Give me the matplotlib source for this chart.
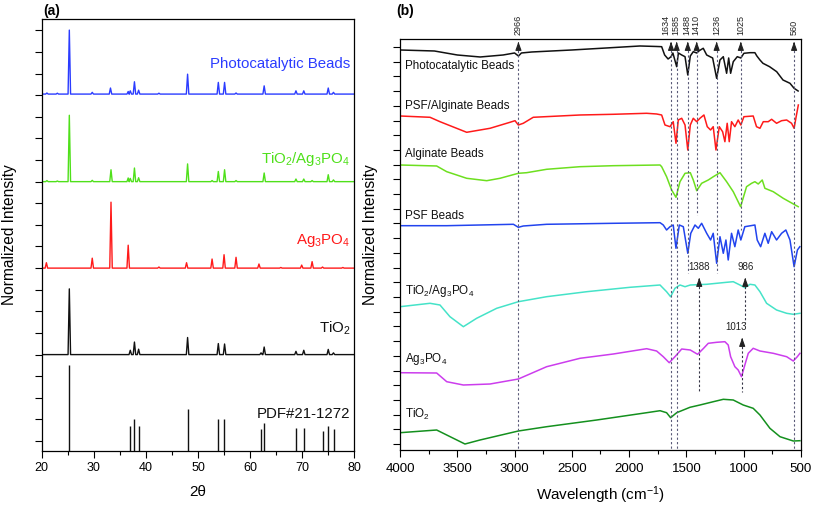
import matplotlib
matplotlib.use('Agg')
import matplotlib.pyplot as plt
from matplotlib.ticker import MultipleLocator, FixedLocator, NullFormatter

plt.rcParams['font.family'] = ['Liberation Sans', 'DejaVu Sans']
plt.rcParams['mathtext.fontset'] = 'custom'
plt.rcParams['mathtext.rm'] = 'Liberation Sans'
plt.rcParams['mathtext.it'] = 'Liberation Sans:italic'
plt.rcParams['mathtext.bf'] = 'Liberation Sans:bold'

# ---------------- XRD data (2theta peak positions / heights) ----------------
photo_pos = [21.0, 23.0, 25.3, 29.7, 33.2, 36.6, 37.0, 37.8, 38.6, 42.5, 48.0, 53.9, 55.1, 57.3, 62.7, 68.8, 70.3, 75.0, 76.0]
photo_h   = [0.05, 0.04, 2.96, 0.08, 0.28, 0.12, 0.15, 0.57, 0.18, 0.04, 0.92, 0.54, 0.54, 0.05, 0.38, 0.15, 0.15, 0.28, 0.08]

tiag_pos = [21.0, 23.0, 25.3, 29.7, 33.3, 36.6, 37.0, 37.8, 38.6, 48.0, 52.7, 53.9, 55.1, 57.3, 62.7, 68.8, 70.3, 71.9, 75.0, 76.0]
tiag_h   = [0.05, 0.03, 3.07, 0.06, 0.55, 0.17, 0.15, 0.63, 0.18, 0.82, 0.05, 0.47, 0.55, 0.05, 0.40, 0.12, 0.12, 0.05, 0.32, 0.08]

ag_pos = [20.9, 29.7, 33.3, 36.6, 42.5, 47.8, 52.7, 55.0, 57.3, 61.7, 65.9, 69.9, 71.9, 73.9, 77.8]
ag_h   = [0.25, 0.46, 3.05, 1.06, 0.05, 0.25, 0.42, 0.62, 0.50, 0.19, 0.03, 0.14, 0.30, 0.05, 0.03]

tio2_pos = [25.3, 37.0, 37.8, 38.6, 48.0, 53.9, 55.1, 62.1, 62.7, 68.8, 70.3, 75.0, 76.0]
tio2_h   = [3.04, 0.20, 0.58, 0.25, 0.79, 0.51, 0.49, 0.08, 0.35, 0.15, 0.20, 0.24, 0.08]

pdf_pos = [25.28, 36.95, 37.80, 38.58, 48.05, 53.89, 55.06, 62.12, 62.69, 68.76, 70.31, 74.03, 75.03, 76.02]
pdf_h   = [3.96, 1.16, 1.46, 1.16, 1.96, 1.46, 1.46, 1.01, 1.29, 1.06, 1.06, 0.92, 1.16, 1.01]

xrd_labels = ['Photocatalytic Beads', 'TiO$_2$/Ag$_3$PO$_4$', 'Ag$_3$PO$_4$', 'TiO$_2$', 'PDF#21-1272']
xrd_ticks = [20, 30, 40, 50, 60, 70, 80]

# ---------------- FTIR data (wavenumber / relative transmittance) ----------------
photo_w = [4000, 3700, 3500, 3300, 3100, 3000, 2966, 2940, 2850, 2500, 2200, 1905, 1760, 1716, 1690, 1660, 1634, 1618, 1585, 1570,
           1541, 1512, 1488, 1466, 1440, 1410, 1388, 1353, 1323, 1294, 1271, 1236, 1207, 1178, 1149, 1131, 1114, 1091, 1056, 1025,
           998, 945, 902, 885, 858, 832, 774, 712, 657, 596, 560, 525]
photo_t = [394, 393, 389, 387, 389, 391, 388, 391, 392, 394, 396, 398, 397.5, 397.3, 389, 385, 387.3, 391, 377.3, 391,
           389, 387.3, 369, 388, 392.3, 391, 393.3, 395.7, 389, 387.3, 386, 365.7, 384, 387.3, 370.7, 386, 370.7, 382.3, 387.3, 386,
           390.7, 391.3, 391.3, 388, 384, 380.7, 377.3, 372.3, 364, 360.7, 355.7, 353]

psfalg_w = [4000, 3738, 3651, 3418, 3214, 3040, 2996, 2967, 2924, 2837, 2429, 2138, 1847, 1760, 1716, 1687, 1643, 1615, 1591, 1571,
            1541, 1512, 1488, 1466, 1440, 1410, 1382, 1347, 1318, 1289, 1266, 1242, 1213, 1184, 1164, 1144, 1126, 1106, 1077, 1048,
            1025, 998, 917, 888, 858, 829, 786, 756, 713, 669, 625, 582, 560, 542, 523]
psfalg_t = [328, 326.7, 322.3, 311.7, 315.7, 321.7, 323.3, 319, 320.7, 326.7, 329, 329.7, 330.7, 330, 329, 319, 317.3, 322.3, 300.7, 324,
            325.7, 319, 294, 319, 325.7, 322.3, 325.7, 329, 317.3, 314, 317.3, 294, 317.3, 312.3, 302.3, 320.7, 302.3, 322.3, 317.3, 324,
            319, 327.3, 328, 317.3, 315.7, 322.3, 322.3, 324.7, 320.7, 323.3, 324, 320.7, 315.7, 327.3, 339]

alg_w = [4000, 3680, 3592, 3418, 3243, 3127, 2967, 2894, 2720, 2429, 2138, 1730, 1716, 1673, 1629, 1591, 1556, 1512, 1466, 1440,
         1410, 1367, 1309, 1265, 1207, 1149, 1091, 1027, 975, 931, 902, 873, 838, 815, 742, 655, 524]
alg_t = [279, 278, 272.3, 265.7, 263.3, 265.7, 270.7, 271.3, 274.7, 277.3, 278.3, 279, 277.3, 267.3, 254, 246.7, 262.3, 270.7, 271.3, 264,
         253.3, 260.7, 264, 267.3, 271.3, 262.3, 252.3, 237.3, 257.3, 260.7, 262.3, 260, 264, 255.7, 252.3, 245.7, 237.3]

psf_w = [4000, 3592, 3010, 2967, 2924, 2720, 2138, 1730, 1702, 1673, 1643, 1615, 1591, 1562, 1527, 1488, 1462, 1425, 1396, 1367,
         1323, 1289, 1266, 1236, 1207, 1178, 1155, 1135, 1106, 1077, 1048, 1025, 990, 902, 882, 852, 815, 786, 756, 713,
         669, 632, 596, 560, 531, 510]
psf_t = [218.3, 218.3, 219.7, 216.7, 218, 219.7, 220.7, 221.3, 219, 214, 217.3, 219, 195.7, 219, 217.3, 190.7, 210.7, 219, 215.7, 220.7,
         210.7, 204, 210.7, 180.7, 207.3, 190.7, 204, 184, 210.7, 197.3, 214, 204, 217.3, 219, 204, 197.3, 210.7, 200.7, 212.3, 204,
         210.7, 214, 204, 177.3, 194, 197.3]

tiag_w = [4000, 3738, 3651, 3564, 3447, 3331, 3156, 2967, 2720, 2370, 1992, 1730, 1716, 1673, 1638, 1600, 1556, 1512, 1466, 1323,
          1149, 1091, 1033, 989, 945, 902, 858, 800, 713, 625, 567, 509]
tiag_t = [137.3, 140.7, 139, 127.3, 117.3, 125.7, 135.7, 142.3, 147.3, 152.3, 156.7, 159, 157.3, 152.3, 147.3, 155.7, 159, 157.3, 159, 159.7,
          161.7, 162.3, 159, 156.3, 159.7, 159, 152.3, 140.7, 134, 130.7, 129.7, 130.7]

agp_w = [4000, 3680, 3592, 3447, 3214, 2967, 2720, 2429, 2138, 1847, 1760, 1702, 1650, 1600, 1541, 1466, 1402, 1350, 1309, 1236,
         1164, 1135, 1114, 1077, 1048, 1019, 990, 960, 917, 858, 742, 625, 567, 532, 509]
agp_t = [71.3, 71, 62.3, 59, 60, 65, 77.3, 85.7, 90, 95.3, 93, 87.3, 81.3, 87.3, 95, 94, 89.7, 95.7, 100.7, 101.7,
         102.3, 99, 87.3, 77.3, 74, 67.3, 79, 90.7, 95.7, 93, 90.7, 87.3, 83, 87.3, 90.7]

tio2_w = [4000, 3680, 3592, 3433, 3302, 2967, 2720, 2283, 1847, 1730, 1673, 1638, 1585, 1469, 1382, 1265, 1178, 1091, 1004, 917,
          858, 771, 683, 567, 509]
tio2_t = [11.3, 14, 9, 0, 4, 13, 17.3, 24, 31.3, 33.3, 31.3, 26.3, 31.3, 36.7, 39, 42.3, 44.7, 44, 39, 35.7,
          29, 15.7, 7.3, 3, 3.3]

ftir_labels = ['Photocatalytic Beads', 'PSF/Alginate Beads', 'Alginate Beads', 'PSF Beads',
               'TiO$_2$/Ag$_3$PO$_4$', 'Ag$_3$PO$_4$', 'TiO$_2$']
top_marks = [2966, 1634, 1585, 1488, 1410, 1236, 1025, 560]
low_marks = [1388, 986, 1013]
ftir_ticks = [4000, 3500, 3000, 2500, 2000, 1500, 1000, 500]

# ---------------- figure ----------------
fig = plt.figure(figsize=(8.13, 5.05), dpi=100)
axa = fig.add_axes([0.0513, 0.1069, 0.3845, 0.8545])
axb = fig.add_axes([0.4920, 0.1089, 0.4932, 0.8139])

def xrd_line(pos, h, hw=0.24):
    xs, ys = [20.0], [0.0]
    for p, v in sorted(zip(pos, h)):
        xs += [p - hw, p, p + hw]
        ys += [0.0, v, 0.0]
    xs.append(80.0); ys.append(0.0)
    return xs, ys

xrd_series = [(photo_pos, photo_h, 16.05, '#2b3cff'),
              (tiag_pos, tiag_h, 12.0, '#4fe01a'),
              (ag_pos, ag_h, 8.0, '#ff1a1a'),
              (tio2_pos, tio2_h, 4.0, '#111111')]
for pos, h, off, c in xrd_series:
    xs, ys = xrd_line(pos, h)
    axa.plot(xs, [y + off for y in ys], color=c, lw=1.0)
ybot = -0.46
axa.vlines(pdf_pos, ybot, [ybot + v for v in pdf_h], color='#111111', lw=1.0)

lab_y = [17.27, 12.88, 9.11, 5.02, 1.09]
lab_c = ['#2b3cff', '#4fe01a', '#ff1a1a', '#111111', '#111111']
for t, y, c in zip(xrd_labels, lab_y, lab_c):
    axa.text(79.2, y, t, color=c, ha='right', va='baseline', fontsize=10.8)

axa.set_xlim(20, 80)
axa.set_ylim(-0.46, 19.5)
axa.xaxis.set_major_locator(FixedLocator(xrd_ticks))
axa.xaxis.set_minor_locator(MultipleLocator(5))
axa.yaxis.set_major_locator(MultipleLocator(1))
axa.yaxis.set_major_formatter(NullFormatter())
axa.tick_params(axis='x', which='major', direction='out', length=5, width=0.8, labelsize=9, pad=3)
axa.tick_params(axis='x', which='minor', direction='out', length=3, width=0.8)
axa.tick_params(axis='y', which='major', direction='out', length=5, width=0.8, left=True, right=False)
axa.set_xlabel('2θ', fontsize=11, labelpad=8)
for s in axa.spines.values():
    s.set_linewidth(0.9)
fig.text(0.012, 0.535, 'Normalized Intensity', rotation=90, ha='center', va='center', fontsize=11.2)
fig.text(0.053, 0.978, '(a)', fontweight='bold', fontsize=10, ha='left', va='center')

# FTIR
ftir_series = [(photo_w, photo_t, '#111111'),
               (psfalg_w, psfalg_t, '#ff1a1a'),
               (alg_w, alg_t, '#6ddf1f'),
               (psf_w, psf_t, '#2244ee'),
               (tiag_w, tiag_t, '#45e3c8'),
               (agp_w, agp_t, '#cc3ded'),
               (tio2_w, tio2_t, '#14901e')]
for w, t, c in ftir_series:
    axb.plot(w, t, color=c, lw=1.1)

ftir_lab_y = [375, 335, 287.3, 225, 149.6, 82.3, 26.3]
for t, y in zip(ftir_labels, ftir_lab_y):
    axb.text(3956, y, t, ha='left', va='baseline', fontsize=8.4, color='#111111')

dot_col = '#5a5a78'
top_end = [-6, -6, -6, 171, 229, 171, 214, -6]
top_text_x = [2966, 1678, 1591, 1498, 1416, 1236, 1025, 560]
for w, e, tx in zip(top_marks, top_end, top_text_x):
    axb.plot([w, w], [398, e], color=dot_col, lw=0.8, ls=(0, (2, 2)))
    axb.annotate('', xy=(w, 405), xytext=(w, 397),
                 arrowprops=dict(arrowstyle='-|>,head_length=0.5,head_width=0.18', color='#222222', lw=0.8),
                 annotation_clip=False)
    axb.text(tx, 408.5, str(w), rotation=90, ha='center', va='bottom', fontsize=6.5, color='#222222', clip_on=False)

low_tip = [169, 169, 109]
low_end = [52, 121, 52]
low_text_x = [1388, 986, 1070]
low_text_y = [172, 172, 112]
for w, tip, e, tx, ty in zip(low_marks, low_tip, low_end, low_text_x, low_text_y):
    axb.plot([w, w], [tip - 7, e], color='#333344', lw=0.8, ls=(0, (2, 2)))
    axb.annotate('', xy=(w, tip), xytext=(w, tip - 8),
                 arrowprops=dict(arrowstyle='-|>,head_length=0.5,head_width=0.18', color='#222222', lw=0.8))
    axb.text(tx, ty, str(w), ha='center', va='bottom', fontsize=7, color='#222222')

axb.set_xlim(4000, 500)
axb.set_ylim(-6, 405)
axb.xaxis.set_major_locator(FixedLocator(ftir_ticks))
axb.xaxis.set_minor_locator(MultipleLocator(250))
axb.yaxis.set_major_locator(FixedLocator([i * 14.7 for i in range(28)]))
axb.yaxis.set_major_formatter(NullFormatter())
axb.tick_params(axis='x', which='major', direction='out', length=5, width=0.8, labelsize=9.6, pad=4)
axb.tick_params(axis='x', which='minor', direction='out', length=3, width=0.8)
axb.tick_params(axis='y', which='major', direction='out', length=5, width=0.8, left=True, right=False)
axb.set_xlabel('Wavelength (cm$^{-1}$)', fontsize=11, labelpad=7)
for s in axb.spines.values():
    s.set_linewidth(0.9)
fig.text(0.456, 0.535, 'Normalized Intensity', rotation=90, ha='center', va='center', fontsize=11.2)
fig.text(0.488, 0.978, '(b)', fontweight='bold', fontsize=10, ha='left', va='center')

fig.savefig('out.png', dpi=100)
